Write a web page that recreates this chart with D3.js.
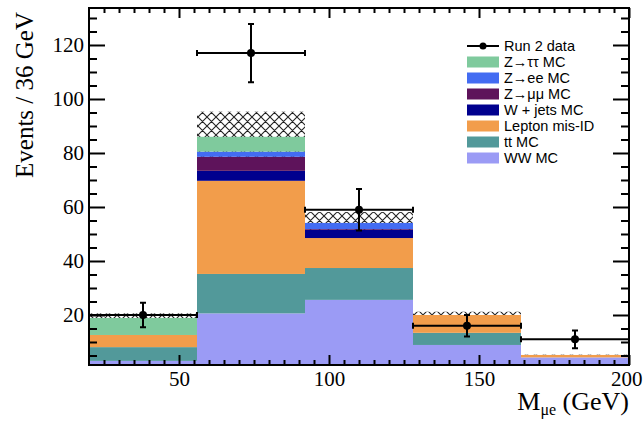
<!DOCTYPE html>
<html>
<head>
<meta charset="utf-8">
<script src="https://cdn.jsdelivr.net/npm/d3@7"></script>
<style>
  body { margin: 0; background: #fff; }
</style>
</head>
<body>
<svg id="chart" width="643" height="421"></svg>
<script>
// Bin edges in M_mue (GeV)
const binEdges = [20, 56, 92, 128, 164, 200];

// Stacked MC, bottom to top
const wwMC      = [3.0, 20.6, 25.6, 8.9, 4.3];
const ttMC      = [5.1, 14.6, 11.8, 4.5, 0];
const misID     = [4.5, 34.5, 11.1, 6.6, 0.9];
const wjetsMC   = [0, 3.7, 3.0, 0, 0];
const zmumuMC   = [0, 5.2, 0.3, 0, 0];
const zeeMC     = [0, 1.9, 2.3, 0, 0];
const ztautauMC = [6.3, 5.5, 0, 0, 0];
const mcUnc     = [1.7, 9.3, 4.0, 1.2, 0.1];

// Run 2 data
const dataCounts = [20, 117, 59, 16, 11];
const dataErr    = [4.5, 10.8, 7.7, 4.0, 3.3];

// Tick labels
const xMajor = [50, 100, 150, 200];
const yMajor = [20, 40, 60, 80, 100, 120];

const series = [
    { key: "ww",      label: "WW MC",         color: "#9b9bf5", values: wwMC },
    { key: "tt",      label: "tt MC",         color: "#52999a", values: ttMC },
    { key: "misid",   label: "Lepton mis-ID", color: "#f29d4b", values: misID },
    { key: "wjets",   label: "W + jets MC",   color: "#00008e", values: wjetsMC },
    { key: "zmumu",   label: "Z\u2192\u03bc\u03bc MC", color: "#5e135b", values: zmumuMC },
    { key: "zee",     label: "Z\u2192ee MC",  color: "#436cf2", values: zeeMC },
    { key: "ztautau", label: "Z\u2192\u03c4\u03c4 MC", color: "#7fca9d", values: ztautauMC }
];

const frame = { left: 89, right: 629, top: 8, bottom: 365 };
const serif = "'Liberation Serif', 'Times New Roman', serif";

const svg = d3.select("#chart");

const x = d3.scaleLinear()
    .domain([20, 200])
    .range([frame.left, frame.right]);

const y = d3.scaleLinear()
    .domain([1.48, 133.7])
    .range([frame.bottom, frame.top]);

// table for d3.stack
const rows = binEdges.slice(0, -1).map((lo, i) => {
    const r = { lo, hi: binEdges[i + 1] };
    series.forEach(s => r[s.key] = s.values[i]);
    r.total = d3.sum(series, s => s.values[i]);
    r.unc = mcUnc[i];
    r.data = dataCounts[i];
    r.err = dataErr[i];
    return r;
});

const defs = svg.append("defs");
defs.append("clipPath").attr("id", "plotclip")
    .append("rect")
    .attr("x", frame.left).attr("y", frame.top)
    .attr("width", frame.right - frame.left)
    .attr("height", frame.bottom - frame.top);

const hatch = defs.append("pattern")
    .attr("id", "hatch")
    .attr("patternUnits", "userSpaceOnUse")
    .attr("width", 9).attr("height", 9);
hatch.append("path")
    .attr("d", "M0,0L9,9M9,0L0,9M-1,8L1,10M8,-1L10,1")
    .attr("stroke", "#222")
    .attr("stroke-width", 1.1)
    .attr("fill", "none");

const plot = svg.append("g").attr("clip-path", "url(#plotclip)");

// MC uncertainty band
plot.append("g")
    .selectAll("rect")
    .data(rows)
    .join("rect")
    .attr("x", d => x(d.lo))
    .attr("width", d => x(d.hi) - x(d.lo))
    .attr("y", d => y(d.total + d.unc))
    .attr("height", d => y(d.total - d.unc) - y(d.total + d.unc))
    .attr("fill", "url(#hatch)");

// stacked MC
const stack = d3.stack().keys(series.map(s => s.key));
const color = d3.scaleOrdinal()
    .domain(series.map(s => s.key))
    .range(series.map(s => s.color));

plot.append("g")
    .selectAll("g")
    .data(stack(rows))
    .join("g")
    .attr("fill", d => color(d.key))
    .selectAll("rect")
    .data(d => d)
    .join("rect")
    .attr("x", d => x(d.data.lo))
    .attr("width", d => x(d.data.hi) - x(d.data.lo))
    .attr("y", d => y(d[1]))
    .attr("height", d => Math.max(0, y(d[0]) - y(d[1])));

// data points with error bars
const pts = svg.append("g")
    .attr("stroke", "#000")
    .attr("stroke-width", 2)
    .selectAll("g")
    .data(rows)
    .join("g");

const cap = 3;
pts.append("line")
    .attr("x1", d => x(d.lo)).attr("x2", d => x(d.hi))
    .attr("y1", d => y(d.data)).attr("y2", d => y(d.data));
pts.append("line")
    .attr("x1", d => x((d.lo + d.hi) / 2)).attr("x2", d => x((d.lo + d.hi) / 2))
    .attr("y1", d => y(d.data + d.err)).attr("y2", d => y(d.data - d.err));
pts.append("path")
    .attr("fill", "none")
    .attr("d", d => {
        const cx = x((d.lo + d.hi) / 2), yt = y(d.data + d.err), yb = y(d.data - d.err);
        const yc = y(d.data), xl = x(d.lo), xr = x(d.hi);
        return `M${cx - cap},${yt}H${cx + cap}M${cx - cap},${yb}H${cx + cap}` +
               `M${xl},${yc - cap}V${yc + cap}M${xr},${yc - cap}V${yc + cap}`;
    });
pts.append("circle")
    .attr("cx", d => x((d.lo + d.hi) / 2))
    .attr("cy", d => y(d.data))
    .attr("r", 4)
    .attr("fill", "#000")
    .attr("stroke", "none");

// axes (ROOT style: ticks inside, on all four sides)
const xMinor = d3.range(25, 200, 5).filter(v => !xMajor.includes(v));
const yMinor = d3.range(5, 134, 5).filter(v => !yMajor.includes(v));

function styleAxis(g) {
    g.select(".domain").remove();
    g.selectAll(".tick line").attr("stroke-width", 2);
    g.selectAll("text")
        .attr("font-family", serif)
        .attr("font-size", 21)
        .attr("fill", "#000");
}

const xAxisG = svg.append("g")
    .attr("transform", `translate(0,${frame.bottom})`)
    .call(d3.axisBottom(x).tickValues(xMajor).tickSize(-10).tickPadding(6).tickFormat(d3.format("d")))
    .call(styleAxis);
// last label sits at the window edge, keep it inside
xAxisG.selectAll(".tick text")
    .filter(d => d === xMajor[xMajor.length - 1])
    .attr("text-anchor", "end")
    .attr("dx", 13);

svg.append("g")
    .attr("transform", `translate(0,${frame.bottom})`)
    .call(d3.axisBottom(x).tickValues(xMinor).tickSize(-5).tickFormat(""))
    .call(styleAxis);
svg.append("g")
    .attr("transform", `translate(0,${frame.top})`)
    .call(d3.axisTop(x).tickValues(xMajor).tickSize(-10).tickFormat(""))
    .call(styleAxis);
svg.append("g")
    .attr("transform", `translate(0,${frame.top})`)
    .call(d3.axisTop(x).tickValues(xMinor).tickSize(-5).tickFormat(""))
    .call(styleAxis);

svg.append("g")
    .attr("transform", `translate(${frame.left},0)`)
    .call(d3.axisLeft(y).tickValues(yMajor).tickSize(-16).tickPadding(5))
    .call(styleAxis);
svg.append("g")
    .attr("transform", `translate(${frame.left},0)`)
    .call(d3.axisLeft(y).tickValues(yMinor).tickSize(-8).tickFormat(""))
    .call(styleAxis);
svg.append("g")
    .attr("transform", `translate(${frame.right},0)`)
    .call(d3.axisRight(y).tickValues(yMajor).tickSize(-16).tickFormat(""))
    .call(styleAxis);
svg.append("g")
    .attr("transform", `translate(${frame.right},0)`)
    .call(d3.axisRight(y).tickValues(yMinor).tickSize(-8).tickFormat(""))
    .call(styleAxis);

// frame
svg.append("rect")
    .attr("x", frame.left).attr("y", frame.top)
    .attr("width", frame.right - frame.left)
    .attr("height", frame.bottom - frame.top)
    .attr("fill", "none")
    .attr("stroke", "#000")
    .attr("stroke-width", 2);

// axis titles
svg.append("text")
    .attr("transform", "translate(33,12) rotate(-90)")
    .attr("text-anchor", "end")
    .attr("font-family", serif)
    .attr("font-size", 25)
    .text("Events / 36 GeV");

const xt = svg.append("text")
    .attr("x", frame.right)
    .attr("y", 410)
    .attr("text-anchor", "end")
    .attr("font-family", serif)
    .attr("font-size", 26);
xt.append("tspan").text("M");
xt.append("tspan").attr("font-size", 16).attr("dy", 5).text("\u03bce");
xt.append("tspan").attr("dy", -5).text(" (GeV)");

// legend
const legendItems = [{ label: "Run 2 data", data: true }]
    .concat(series.slice().reverse().map(s => ({ label: s.label, color: s.color })));

const legend = svg.append("g")
    .attr("font-family", "'Liberation Sans', Arial, sans-serif")
    .attr("font-size", 14.5)
    .selectAll("g")
    .data(legendItems)
    .join("g")
    .attr("transform", (d, i) => `translate(467,${46 + i * 16})`);

legend.filter(d => !d.data).append("rect")
    .attr("x", 0).attr("y", -5.5)
    .attr("width", 32).attr("height", 11)
    .attr("fill", d => d.color);

const dl = legend.filter(d => d.data);
dl.append("line")
    .attr("x1", 0).attr("x2", 32).attr("y1", 0).attr("y2", 0)
    .attr("stroke", "#000").attr("stroke-width", 2);
dl.append("circle")
    .attr("cx", 16).attr("cy", 0).attr("r", 3.5).attr("fill", "#000");

legend.append("text")
    .attr("x", 37)
    .attr("y", 0)
    .attr("dy", "0.35em")
    .text(d => d.label);
</script>
</body>
</html>
